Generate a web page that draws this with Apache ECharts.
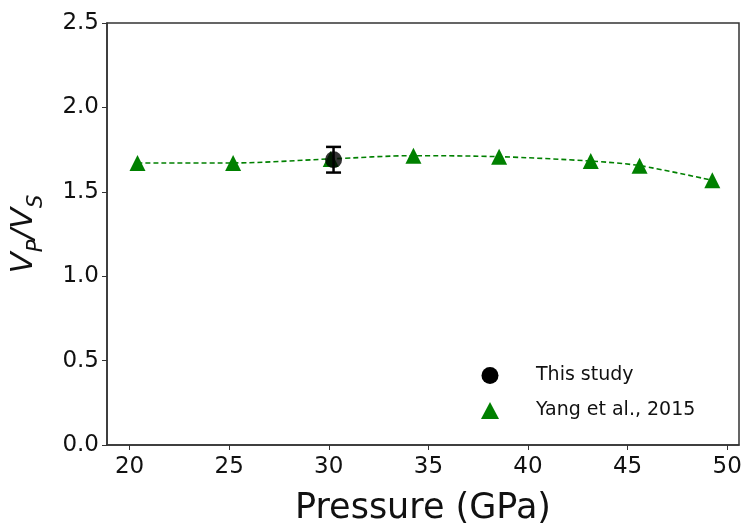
<!DOCTYPE html>
<html>
<head>
<meta charset="utf-8">
<script src="https://cdn.jsdelivr.net/npm/echarts@6/dist/echarts.min.js"></script>
<style>
    html, body { margin: 0; padding: 0; background: #fff; }
    #chart { width: 745px; height: 526px; }
</style>
</head>
<body>
<div id="chart"></div>
<script>
    // Yang et al., 2015 (triangles, dashed fit)
    var yangP = [20.4, 25.2, 30.1, 34.25, 38.55, 43.15, 45.6, 49.25];
    var yangV = [1.671, 1.671, 1.695, 1.714, 1.708, 1.682, 1.655, 1.568];

    // this study (dot with error bar)
    var studyP = [30.24];
    var studyV = [1.69];
    var studyErr = [0.076];

    var xTicks = [20, 25, 30, 35, 40, 45, 50];
    var yTicks = [0.0, 0.5, 1.0, 1.5, 2.0, 2.5];

    var font = 'DejaVu Sans';
    var chart = echarts.init(document.getElementById('chart'));

    var yangData = yangP.map(function (p, i) { return [p, yangV[i]]; });
    var studyData = studyP.map(function (p, i) { return [p, studyV[i]]; });
    var errData = studyP.map(function (p, i) { return [p, studyV[i] - studyErr[i], studyV[i] + studyErr[i]]; });

    var option = {
        animation: false,
        backgroundColor: '#fff',
        grid: {
            left: 107, right: 6, top: 23, bottom: 81,
            outerBoundsMode: 'none',
            containLabel: false,
            show: true, borderColor: '#333', borderWidth: 1.5
        },
        legend: {
            orient: 'vertical',
            left: 476, top: 361,
            itemWidth: 18, itemHeight: 17, itemGap: 16,
            textStyle: { fontFamily: font, fontSize: 19, color: '#111', padding: [0, 0, 0, 32] },
            data: [
                { name: 'This study', icon: 'circle' },
                { name: 'Yang et al., 2015', icon: 'triangle' }
            ]
        },
        xAxis: {
            type: 'value',
            min: 18.87, max: 50.59,
            name: 'Pressure (GPa)',
            nameLocation: 'middle',
            nameGap: 46,
            nameTextStyle: { fontFamily: font, fontSize: 35, color: '#111' },
            axisLine: { show: true, lineStyle: { color: '#333', width: 1.5 } },
            axisTick: { show: true, length: 5, customValues: xTicks, lineStyle: { color: '#333' } },
            axisLabel: { customValues: xTicks, fontFamily: font, fontSize: 23, color: '#111', margin: 11 },
            splitLine: { show: false }
        },
        yAxis: {
            type: 'value',
            min: 0, max: 2.5, interval: 0.5,
            name: '{v|V}{s|P}{v|/V}{s|S}',
            nameLocation: 'middle',
            nameRotate: 90,
            nameGap: 60,
            nameTextStyle: {
                fontFamily: font, color: '#111',
                rich: {
                    v: { fontFamily: font, fontStyle: 'italic', fontSize: 31, lineHeight: 31, color: '#111' },
                    s: { fontFamily: font, fontStyle: 'italic', fontSize: 21, lineHeight: 46, verticalAlign: 'bottom', color: '#111' }
                }
            },
            axisLine: { show: true, lineStyle: { color: '#333', width: 1.5 } },
            axisTick: { show: true, length: 5, lineStyle: { color: '#333' } },
            axisLabel: {
                fontFamily: font, fontSize: 23, color: '#111', margin: 8,
                formatter: function (v) { return v.toFixed(1); }
            },
            splitLine: { show: false }
        },
        series: [
            {
                name: 'Yang et al., 2015',
                type: 'line',
                data: yangData,
                smooth: 0.3,
                symbol: 'triangle',
                symbolSize: [16, 16],
                itemStyle: { color: '#008000' },
                lineStyle: { color: '#008000', width: 1.6, type: [5, 3] },
                z: 2
            },
            {
                name: 'This study',
                type: 'custom',
                data: errData,
                renderItem: function (params, api) {
                    var lo = api.coord([api.value(0), api.value(1)]);
                    var hi = api.coord([api.value(0), api.value(2)]);
                    var hw = 7.5;
                    var st = { stroke: '#000', lineWidth: 2.5 };
                    return {
                        type: 'group',
                        children: [
                            { type: 'line', shape: { x1: lo[0], y1: lo[1], x2: hi[0], y2: hi[1] }, style: st },
                            { type: 'line', shape: { x1: lo[0] - hw, y1: lo[1], x2: lo[0] + hw, y2: lo[1] }, style: st },
                            { type: 'line', shape: { x1: hi[0] - hw, y1: hi[1], x2: hi[0] + hw, y2: hi[1] }, style: st }
                        ]
                    };
                },
                itemStyle: { color: '#000' },
                z: 3
            },
            {
                name: 'This study',
                type: 'scatter',
                data: studyData,
                symbol: 'circle',
                symbolSize: 17,
                itemStyle: { color: '#000' },
                z: 4
            }
        ]
    };

    chart.setOption(option);
</script>
</body>
</html>
